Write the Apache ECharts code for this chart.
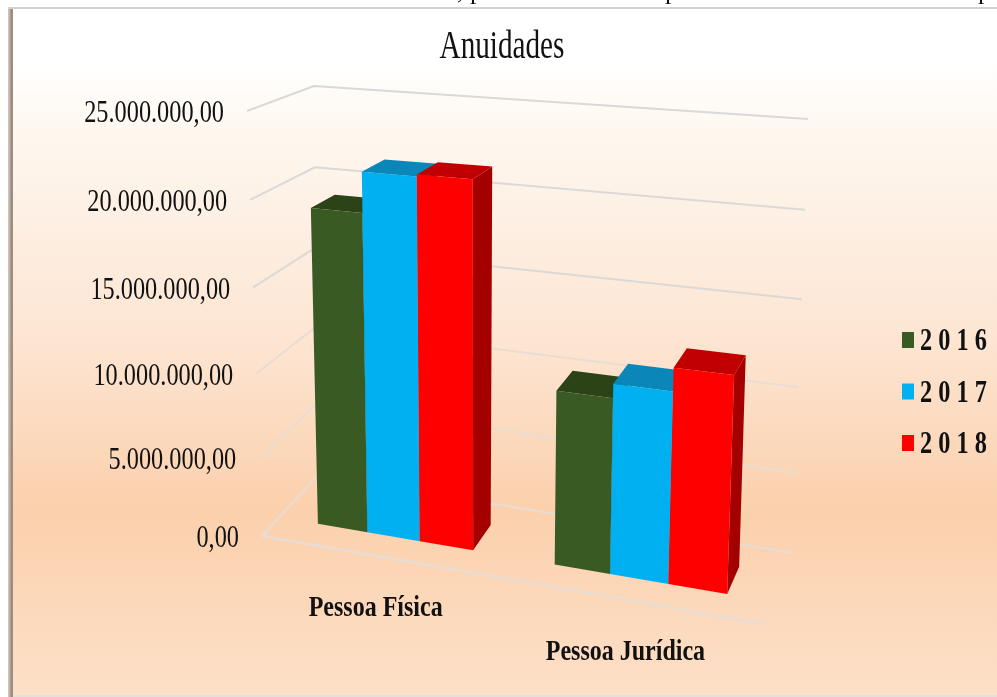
<!DOCTYPE html>
<html><head><meta charset="utf-8">
<style>html,body{margin:0;padding:0;background:#fff}#c{width:997px;height:697px}</style>
<script src="https://cdn.jsdelivr.net/npm/echarts@6/dist/echarts.min.js"></script>
</head><body><div id="c"></div>
<script>
const chartTitle = 'Anuidades';
const categories = ['Pessoa Física', 'Pessoa Jurídica'];
const years = ['2016', '2017', '2018'];
const values2016 = [19150000, 10300000];
const values2017 = [21500000, 11100000];
const values2018 = [21600000, 12400000];
const tickValues = [0, 5000000, 10000000, 15000000, 20000000, 25000000];
const tickLabels = ['0,00', '5.000.000,00', '10.000.000,00', '15.000.000,00', '20.000.000,00', '25.000.000,00'];

const seriesValues = [values2016, values2017, values2018];
const frontColors = ['#3A5A23', '#00B0F0', '#FF0000'];
const topColors = ['#2B4317', '#0A86B8', '#C00000'];
const sideColors = ['#26391A', '#0874A0', '#A50000'];
const axisMax = tickValues[tickValues.length - 1];

// Perspective box: corners of floor and ceiling, in page pixels
const FLOOR = { fl: [262, 536], fr: [765, 624], bl: [318, 475], br: [793, 553] };
const CEIL = { fl: [247, 111], fr: [783, 150], bl: [314, 86], br: [808, 119] };
const BAR_Z = [0.31, 0.70];
const BAR_U = [[0.078, 0.178, 0.284, 0.392], [0.557, 0.669, 0.787, 0.906]];
const Y_POWER = 1.05;

const mix = (a, b, t) => [a[0] + (b[0] - a[0]) * t, a[1] + (b[1] - a[1]) * t];
function plane(p, u, z) { return mix(mix(p.fl, p.fr, u), mix(p.bl, p.br, u), z); }
function project(u, z, f) { return mix(plane(FLOOR, u, z), plane(CEIL, u, z), f); }
function heightOf(api, v) {
  const y0 = api.coord([0, 0])[1], y1 = api.coord([0, axisMax])[1], y = api.coord([0, v])[1];
  return Math.pow((y0 - y) / (y0 - y1), Y_POWER);
}
const SERIF = '"Liberation Serif","Times New Roman",serif';

function renderWall(params, api) {
  const v = api.value(1), f = heightOf(api, v), i = params.dataIndex;
  const stroke = f > 0.5 ? '#DBD9D7' : '#E9DDD3';
  const kids = [{
    type: 'polyline',
    shape: { points: [project(0, 0, f), project(0, 1, f), project(1, 1, f)] },
    style: { stroke, lineWidth: 2, fill: 'none' }
  }];
  if (v === 0) kids.push({
    type: 'line',
    shape: { x1: FLOOR.fl[0], y1: FLOOR.fl[1], x2: FLOOR.fr[0], y2: FLOOR.fr[1] },
    style: { stroke, lineWidth: 2.5 }
  });
  const p = project(0, 0, f);
  kids.push({
    type: 'text', x: p[0] - 23, y: p[1] + 3, scaleX: 0.76,
    style: { text: tickLabels[i], font: '32px ' + SERIF, fill: '#111', textAlign: 'right', textVerticalAlign: 'middle' }
  });
  return { type: 'group', children: kids };
}

function makeBar(s) {
  return function (params, api) {
    const c = api.value(0), f = heightOf(api, api.value(1));
    const u0 = BAR_U[c][s], u1 = BAR_U[c][s + 1], zf = BAR_Z[0], zb = BAR_Z[1];
    const a = project(u0, zf, 0), b = project(u1, zf, 0), d = project(u1, zb, 0);
    const at = project(u0, zf, f), bt = project(u1, zf, f), dt = project(u1, zb, f), et = project(u0, zb, f);
    return { type: 'group', children: [
      { type: 'polygon', shape: { points: [b, d, dt, bt] }, style: { fill: sideColors[s] } },
      { type: 'polygon', shape: { points: [at, bt, dt, et] }, style: { fill: topColors[s] } },
      { type: 'polygon', shape: { points: [a, b, bt, at] }, style: { fill: frontColors[s] } }
    ] };
  };
}

function renderCategory(params, api) {
  const c = api.value(0);
  const p = project((BAR_U[c][0] + BAR_U[c][3]) / 2, 0, 0);
  return {
    type: 'text', x: p[0] - 4.5, y: p[1] + 52, scaleX: 0.8,
    style: { text: categories[c], font: 'bold 30px ' + SERIF, fill: '#111', textAlign: 'center', textVerticalAlign: 'middle' }
  };
}

const legendGraphics = [];
years.forEach((y, i) => {
  const cy = 340 + i * 51.5;
  legendGraphics.push({ type: 'rect', x: 902, y: cy - 8, shape: { width: 12, height: 16 }, style: { fill: frontColors[i] } });
  legendGraphics.push({
    type: 'text', x: 920, y: cy + 2, scaleX: 0.76,
    style: { text: y.split('').join(' '), font: 'bold 32px ' + SERIF, fill: '#111', textAlign: 'left', textVerticalAlign: 'middle' }
  });
});

// Descenders of the cropped line of text above the panel
const croppedText = [[457, ','], [470, 'p'], [665, 'p'], [978, 'p']].map(t => ({
  type: 'text', x: t[0], y: 5,
  style: { text: t[1], font: '26px ' + SERIF, fill: '#111', textAlign: 'left', textVerticalAlign: 'bottom' }
}));

const chart = echarts.init(document.getElementById('c'), null, { renderer: 'canvas' });
chart.setOption({
  animation: false,
  backgroundColor: '#ffffff',
  grid: { left: 100, right: 100, top: 112, bottom: 161 },
  xAxis: { type: 'category', data: categories, show: false },
  yAxis: { type: 'value', min: 0, max: axisMax, interval: 5000000, show: false },
  graphic: [
    { type: 'rect', x: 8, y: 8, z: -2, shape: { width: 6, height: 689 },
      style: { fill: new echarts.graphic.LinearGradient(0, 0, 1, 0, [{ offset: 0, color: '#D8CFC8' }, { offset: 0.6, color: '#9A8A7E' }, { offset: 1, color: '#A89484' }]) } },
    { type: 'rect', x: 8, y: 7, z: -2, shape: { width: 989, height: 2 }, style: { fill: '#D4D2D0' } },
    { type: 'rect', x: 13, y: 9, z: -1, shape: { width: 984, height: 686 },
      style: { fill: new echarts.graphic.LinearGradient(0, 0, 0, 1, [
        { offset: 0, color: '#FFFFFF' }, { offset: 0.08, color: '#FFFFFF' }, { offset: 0.17, color: '#FEF8F0' },
        { offset: 0.3, color: '#FDF0E4' }, { offset: 0.5, color: '#FDE4D0' }, { offset: 0.73, color: '#FBD0AC' },
        { offset: 1, color: '#FDE0C8' }]) } },
    { type: 'rect', x: 13, y: 695, z: 0, shape: { width: 984, height: 2 }, style: { fill: '#E4E0DC' } },
    { type: 'text', x: 502, y: 47, scaleX: 0.73,
      style: { text: chartTitle, font: '40px ' + SERIF, fill: '#111', textAlign: 'center', textVerticalAlign: 'middle' } }
  ].concat(legendGraphics, croppedText),
  series: [
    { type: 'custom', name: 'grade', silent: true, renderItem: renderWall, encode: { x: 0, y: 1 },
      data: tickValues.map(v => [0, v]), z: 1 },
    ...years.map((y, s) => ({
      type: 'custom', name: y, silent: true, renderItem: makeBar(s), encode: { x: 0, y: 1 },
      data: seriesValues[s].map((v, c) => [c, v]), z: 2 + s
    })),
    { type: 'custom', name: 'categorias', silent: true, renderItem: renderCategory, encode: { x: 0, y: 1 },
      data: categories.map((c, i) => [i, 0]), z: 6 }
  ]
});
</script></body></html>
